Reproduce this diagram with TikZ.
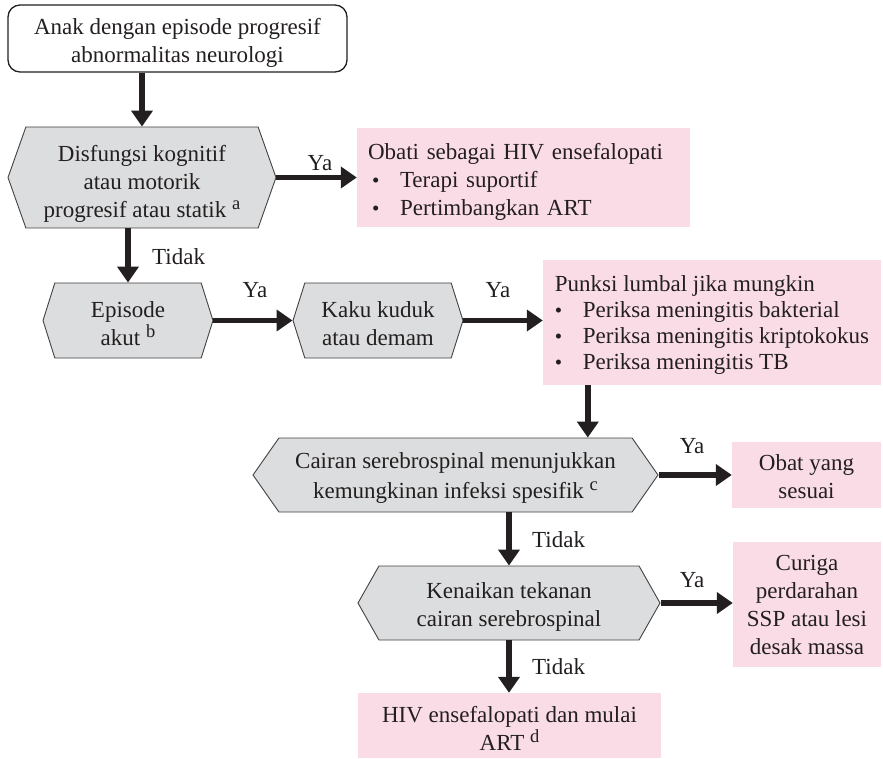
\documentclass[tikz,border=0pt]{standalone}
\usepackage{fontspec}
\setmainfont{Liberation Serif}
\usetikzlibrary{shapes.symbols,arrows.meta,calc}

\definecolor{ink}{HTML}{231F20}
\definecolor{rosefill}{HTML}{FADCE7}
\definecolor{greyfill}{HTML}{DCDDDE}

% list bullet and hanging indent for the pink action boxes
\newcommand{\itemdot}{{\fontsize{21}{21}\selectfont\textbullet}}
\newcommand{\listline}[2]{\hspace*{#1}\makebox[28pt][l]{\itemdot}#2}
% footnote marks
\newcommand{\fnmark}[1]{\raisebox{8pt}{\fontsize{18.5}{18.5}\selectfont #1}}
% strut on a first line: pushes a centred text block down a little
\newcommand{\topstrut}[1]{\rule{0pt}{#1}}

\tikzset{
  base/.style={font=\fontsize{23}{28}\selectfont, text=ink},
  startbox/.style={base, draw=ink, line width=1.3pt, rounded corners=12pt,
    fill=white, align=center, inner sep=0pt},
  decision/.style={base, signal, signal to=west and east, signal from=nowhere,
    draw=ink!85, line width=0.9pt, fill=greyfill, align=center, inner sep=0pt},
  action/.style={base, fill=rosefill, inner sep=0pt, align=center},
  flow/.style={draw=ink, line width=5.5pt, -{Triangle[length=16pt,width=21pt]}},
  branch/.style={base, inner sep=0pt},
}

\begin{document}
\begin{tikzpicture}[x=1pt, y=-1pt]
  \useasboundingbox (0,0) rectangle (883,759);

  % boxes
  \node[startbox, minimum width=339pt, minimum height=67pt] (start) at (177.5,38.5)
    {\topstrut{25pt}Anak dengan episode progresif\\abnormalitas neurologi};

  \node[decision, minimum width=268pt, minimum height=101pt, signal pointer angle=141]
    (cogn) at (142,177.5)
    {\topstrut{29pt}Disfungsi kognitif\\atau motorik\\progresif atau statik \fnmark{a}};

  \node[action, minimum width=333pt, minimum height=99pt, text width=311pt,
    inner xsep=11pt, align=left] (enceph) at (523.5,177.5)
    {\topstrut{25pt}Obati sebagai HIV ensefalopati\\
     \listline{4pt}{Terapi suportif}\\
     \listline{4pt}{Pertimbangkan ART}};

  \node[decision, minimum width=170pt, minimum height=75pt, signal pointer angle=145]
    (acute) at (128,320.5) {\topstrut{22pt}Episode\\akut \fnmark{b}};

  \node[decision, minimum width=170pt, minimum height=75pt, signal pointer angle=145]
    (neck) at (378,320.5) {\topstrut{22pt}Kaku kuduk\\atau demam};

  \node[action, minimum width=338pt, minimum height=125pt, align=left,
    font=\fontsize{23}{26}\selectfont] (lumbar) at (712,322.5)
    {\topstrut{20pt}Punksi lumbal jika mungkin\\
     \listline{0pt}{Periksa meningitis bakterial}\\
     \listline{0pt}{Periksa meningitis kriptokokus}\\
     \listline{0pt}{Periksa meningitis TB}};

  \node[decision, minimum width=405pt, minimum height=74pt, signal pointer angle=110]
    (csf) at (455.5,475)
    {\topstrut{22pt}Cairan serebrospinal menunjukkan\\[2pt]kemungkinan infeksi spesifik \fnmark{c}};

  \node[action, minimum width=149pt, minimum height=66pt] (drug) at (806.5,475)
    {\topstrut{19pt}Obat yang\\sesuai};

  \node[decision, minimum width=302pt, minimum height=74pt, signal pointer angle=121]
    (press) at (509,603) {\topstrut{23pt}Kenaikan tekanan\\cairan serebrospinal};

  \node[action, minimum width=148pt, minimum height=125pt] (bleed) at (807,604.5)
    {Curiga\\perdarahan\\SSP atau lesi\\desak massa};

  \node[action, minimum width=303pt, minimum height=65pt] (startart) at (509.5,725.5)
    {\topstrut{22pt}HIV ensefalopati dan mulai\\ART \fnmark{d}};

  % connectors
  \draw[flow] (cogn.north |- start.south) -- (cogn.north);
  \draw[flow] (cogn.east) -- (enceph.west);
  \draw[flow] (acute.north |- cogn.south) -- (acute.north);
  \draw[flow] (acute.east) -- (neck.west);
  \draw[flow] (neck.east) -- (neck.east -| lumbar.west);
  \draw[flow] ($(lumbar.south west)+(45,0)$) coordinate (lumbarout)
    -- (lumbarout |- csf.north);
  \draw[flow] (csf.east) -- (drug.west);
  \draw[flow] (press.north |- csf.south) -- (press.north);
  \draw[flow] (press.east) -- (press.east -| bleed.west);
  \draw[flow] (press.south) -- (press.south |- startart.north);

  % branch labels
  \node[branch] (ya1) at (320,163) {Ya};
  \node[branch] (ya2) at (255,290) {Ya};
  \node[branch] (ya3) at (498,290) {Ya};
  \node[branch] (ya4) at (692,446) {Ya};
  \node[branch] (ya5) at (692,580) {Ya};
  \node[branch, anchor=west] (no1) at (152,257) {Tidak};
  \node[branch, anchor=west] (no2) at (532,540) {Tidak};
  \node[branch, anchor=west] (no3) at (532,667) {Tidak};
\end{tikzpicture}
\end{document}
